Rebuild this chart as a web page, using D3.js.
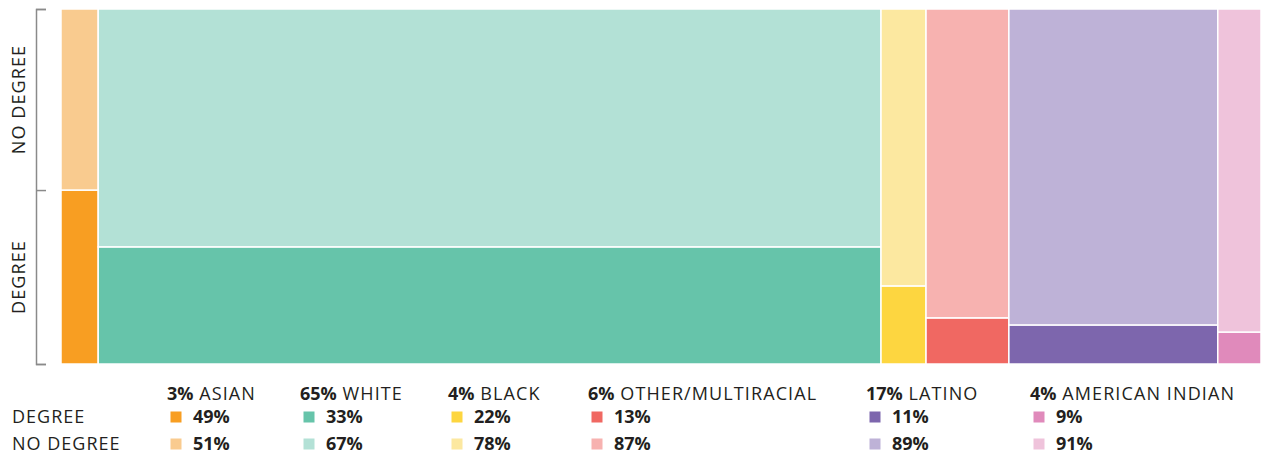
<!DOCTYPE html>
<html>
<head>
<meta charset="utf-8">
<script src="https://cdn.jsdelivr.net/npm/d3@7"></script>
<style>
  body { margin: 0; background: #fff; }
  text { font-family: 'Open Sans', sans-serif; fill: #231f20; }
</style>
</head>
<body>
<div id="chart"></div>
<script>
// Groups, their share of the population (column widths) and the
// share of each group holding a degree (column splits).
const groups = ['ASIAN', 'WHITE', 'BLACK', 'OTHER/MULTIRACIAL', 'LATINO', 'AMERICAN INDIAN'];
const populationShare = [3.1, 65.2, 3.75, 6.9, 17.4, 3.6];
const shareLabels = ['3%', '65%', '4%', '6%', '17%', '4%'];
const degree = [49, 33, 22, 13, 11, 9];
const noDegree = [51, 67, 78, 87, 89, 91];
const rowLabels = ['DEGREE', 'NO DEGREE'];

const degreeColours = ['#f89e22', '#66c4aa', '#fdd640', '#f06862', '#7d66ad', '#e08abb'];
const noDegreeColours = ['#f9cb8f', '#b3e1d6', '#fce8a0', '#f7b2b0', '#beb2d7', '#efc3db'];

const width = 1261,
      height = 456,
      plot = {left: 61, right: 1261, top: 9, bottom: 364};

const svg = d3.select('#chart').append('svg')
    .attr('width', width)
    .attr('height', height);

const total = d3.sum(populationShare);
const x = d3.scaleLinear()
    .domain([0, total])
    .range([plot.left, plot.right]);

const y = d3.scaleLinear()
    .domain([0, 100])
    .range([plot.bottom, plot.top]);

const starts = d3.cumsum([0].concat(populationShare));

const columns = groups.map((g, i) => ({
  name: g,
  x0: starts[i],
  x1: starts[i + 1],
  degree: degree[i],
  noDegree: noDegree[i],
  i: i
}));

// Each column has two stacked cells: degree at the bottom,
// no degree on top.
const cells = [];
columns.forEach(c => {
  cells.push({x0: c.x0, x1: c.x1, y0: 0, y1: c.degree, fill: degreeColours[c.i]});
  cells.push({x0: c.x0, x1: c.x1, y0: c.degree, y1: c.degree + c.noDegree, fill: noDegreeColours[c.i]});
});

svg.append('g')
    .attr('class', 'cells')
  .selectAll('rect')
    .data(cells)
  .enter().append('rect')
    .attr('x', d => x(d.x0))
    .attr('y', d => y(d.y1))
    .attr('width', d => x(d.x1) - x(d.x0))
    .attr('height', d => y(d.y0) - y(d.y1))
    .style('fill', d => d.fill)
    .style('stroke', '#fff')
    .style('stroke-width', 1.5);

// Bracket on the left, split at the first column's degree share.
const bracket = d3.axisRight(y)
    .tickValues([0, degree[0], 100])
    .tickSize(10)
    .tickSizeOuter(10)
    .tickFormat('');

const axisG = svg.append('g')
    .attr('transform', 'translate(36,0)')
    .call(bracket);
axisG.selectAll('path, line')
    .style('stroke', '#8a8a8a')
    .style('stroke-width', 1.5);

const sideLabels = [
  {text: 'NO DEGREE', mid: (degree[0] + 100) / 2},
  {text: 'DEGREE', mid: degree[0] / 2}
];

svg.append('g')
  .selectAll('text')
    .data(sideLabels)
  .enter().append('text')
    .attr('transform', d => 'translate(25,' + y(d.mid) + ') rotate(-90)')
    .attr('text-anchor', 'middle')
    .style('font-size', '18px')
    .style('letter-spacing', '1.1px')
    .text(d => d.text);

// Legend underneath
const legendX = [167, 300, 448, 588, 866, 1030];
const rowY = [423, 450];

const legend = svg.append('g').attr('class', 'legend');

legend.selectAll('text.row')
    .data(rowLabels)
  .enter().append('text')
    .attr('class', 'row')
    .attr('x', 12)
    .attr('y', (d, i) => rowY[i])
    .style('font-size', '18px')
    .style('letter-spacing', '1px')
    .text(d => d);

const item = legend.selectAll('g.item')
    .data(columns)
  .enter().append('g')
    .attr('class', 'item')
    .attr('transform', (d, i) => 'translate(' + legendX[i] + ',0)');

const head = item.append('text')
    .attr('y', 400)
    .style('font-size', '18px')
    .style('letter-spacing', '1.1px');
head.append('tspan')
    .style('font-weight', 'bold')
    .style('letter-spacing', '0px')
    .text(d => shareLabels[d.i]);
head.append('tspan')
    .text(d => ' ' + d.name);

[degree, noDegree].forEach((values, r) => {
  const colours = r === 0 ? degreeColours : noDegreeColours;
  item.append('rect')
      .attr('x', 3.5)
      .attr('y', rowY[r] - 11.5)
      .attr('width', 11)
      .attr('height', 11)
      .style('fill', d => colours[d.i]);
  item.append('text')
      .attr('x', 26)
      .attr('y', rowY[r])
      .style('font-size', '18px')
      .style('font-weight', 'bold')
      .text(d => values[d.i] + '%');
});
</script>
</body>
</html>
